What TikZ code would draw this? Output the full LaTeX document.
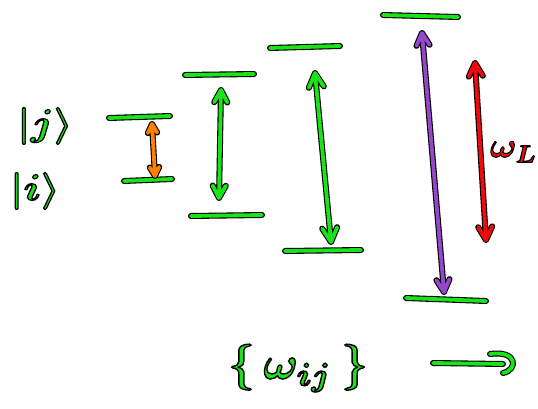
\documentclass[tikz,border=0pt]{standalone}
\usepackage{amsmath}
\usetikzlibrary{calc}
\definecolor{lvgreen}{RGB}{25,228,25}
\definecolor{pumporange}{RGB}{255,128,0}
\definecolor{laserred}{RGB}{240,10,10}
\definecolor{transpurple}{RGB}{150,70,200}
% a stroke with a black rim: wide black pass, then the coloured pass on top
\newcommand\sk[2]{%
  \draw[line width=6pt, black, line cap=round, line join=round] #2;
  \draw[line width=3.8pt, #1, line cap=round, line join=round] #2;}
% double-headed transition arrow between two named points
\newcommand\skarrow[4]{%
  \sk{#1}{($(#2)!#4!28:(#3)$) -- (#2) -- ($(#2)!#4!-28:(#3)$)
          (#2) -- (#3)
          ($(#3)!#4!28:(#2)$) -- (#3) -- ($(#3)!#4!-28:(#2)$)}}
% coloured glyphs with a thin black outline (fill + stroke rendering)
\newcommand\rimtext[2]{\textcolor{#1}{\special{pdf:literal direct 0 G 0.3 w 2 Tr}#2\special{pdf:literal direct 0 Tr}}}
\tikzset{ketlabel/.style={xscale=4.3, yscale=3.7}}
\begin{document}
\begin{tikzpicture}[x=1pt,y=-1pt]
\useasboundingbox (0,0) rectangle (538,409);

% energy levels, four pairs
\coordinate (a1) at (109,118); \coordinate (a2) at (170,116);
\coordinate (a3) at (124,181); \coordinate (a4) at (172,179);
\coordinate (b1) at (185,75);  \coordinate (b2) at (254,74);
\coordinate (b3) at (191,216); \coordinate (b4) at (262,215);
\coordinate (c1) at (270,48);  \coordinate (c2) at (340,46);
\coordinate (c3) at (285,251); \coordinate (c4) at (361,250);
\coordinate (d1) at (383,15);  \coordinate (d2) at (458,17);
\coordinate (d3) at (406,298); \coordinate (d4) at (486,301);
\foreach \p/\q in {a1/a2,a3/a4,b1/b2,b3/b4,c1/c2,c3/c4,d1/d2,d3/d4}
  \sk{lvgreen}{(\p) -- (\q)};

% transitions
\coordinate (ot) at (152,124); \coordinate (ob) at (155,176);
\coordinate (gbt) at (221,90); \coordinate (gbb) at (219,198);
\coordinate (gct) at (315,73); \coordinate (gcb) at (331,242);
\coordinate (pt) at (422,33);  \coordinate (pb) at (444,292);
\coordinate (rt) at (475,63);  \coordinate (rb) at (486,240);
\skarrow{pumporange}{ot}{ob}{10pt}
\skarrow{lvgreen}{gbt}{gbb}{14pt}
\skarrow{lvgreen}{gct}{gcb}{16pt}
\skarrow{transpurple}{pt}{pb}{14pt}
\skarrow{laserred}{rt}{rb}{15pt}

% labels
\node[ketlabel] (ketj) at (45,126) {\rimtext{lvgreen}{$\boldsymbol{|j\rangle}$}};
\node[ketlabel] (keti) at (35,191) {\rimtext{lvgreen}{$\boldsymbol{|i\rangle}$}};
\node[scale=3.5] (wl) at (514,152) {\rimtext{laserred}{$\boldsymbol{\omega_L}$}};
\node[scale=4.6] (wij) at (298,368) {\rimtext{lvgreen}{$\boldsymbol{\{\,\omega_{ij}\,\}}$}};

% arrow pointing right below the levels
\coordinate (fs) at (433,363); \coordinate (fe) at (503,364);
\coordinate (h1) at (490,354); \coordinate (h2) at (503,373);
\sk{lvgreen}{(fs) -- (fe) (h1) .. controls (518,350) and (518,370) .. (h2)}
\end{tikzpicture}
\end{document}
